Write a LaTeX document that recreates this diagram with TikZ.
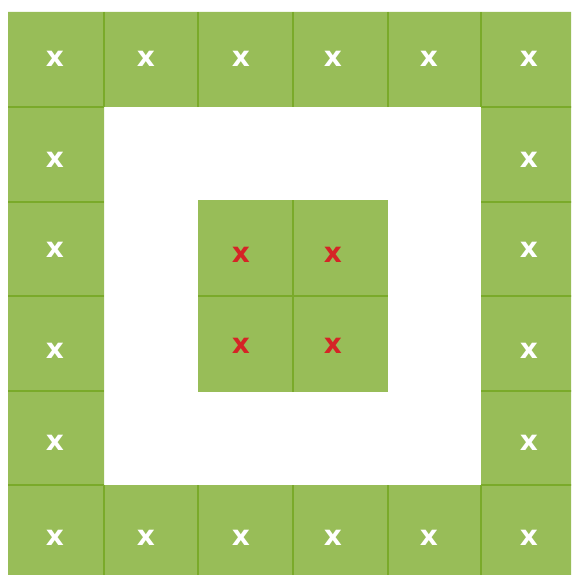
\documentclass[tikz,border=0pt]{standalone}
\usepackage{fontspec}
\usepackage{tikz}
\newfontfamily\markfont{DejaVu Sans}
\definecolor{cellgreen}{RGB}{152, 189, 88}
\definecolor{linegreen}{RGB}{122, 170, 42}
\definecolor{markred}{RGB}{213, 36, 38}

\begin{document}
\begin{tikzpicture}[x=1pt, y=-1pt,
    gridline/.style={draw=linegreen, line width=2.2pt},
    xmark/.style={text=white, inner sep=0pt, font=\markfont\bfseries\fontsize{28}{28}\selectfont},
    redmark/.style={xmark, text=markred}]
    \useasboundingbox (0,0) rectangle (571,575);
    \clip (0,0) rectangle (571,575);

    % Rahmen aus Feldern und innerer Block
    \fill[cellgreen, even odd rule] (8,12) rectangle (576,580) (104,107) rectangle (481,485);
    \fill[cellgreen] (198,200) rectangle (388,392);

    % Trennlinien
    \foreach \gx in {104,198,293,388,481} {
        \draw[gridline] (\gx,12) -- (\gx,107);
        \draw[gridline] (\gx,485) -- (\gx,580);
    }
    \foreach \gy in {107,202,296,391,485} {
        \draw[gridline] (8,\gy) -- (104,\gy);
        \draw[gridline] (481,\gy) -- (576,\gy);
    }
    \draw[gridline] (293,200) -- (293,392);
    \draw[gridline] (198,296) -- (388,296);

    % Markierungen
    \foreach \mx [count=\i] in {55,146,241,333,429,529} {
        \node[xmark] (top-\i) at (\mx,59) {x};
        \node[xmark] (bot-\i) at (\mx,538) {x};
    }
    \foreach \my [count=\j] in {160,250,351,443} {
        \node[xmark] (left-\j) at (55,\my) {x};
        \node[xmark] (right-\j) at (529,\my) {x};
    }
    \node[redmark] (in-1) at (241,255) {x};
    \node[redmark] (in-2) at (333,255) {x};
    \node[redmark] (in-3) at (241,346) {x};
    \node[redmark] (in-4) at (333,346) {x};
\end{tikzpicture}
\end{document}
